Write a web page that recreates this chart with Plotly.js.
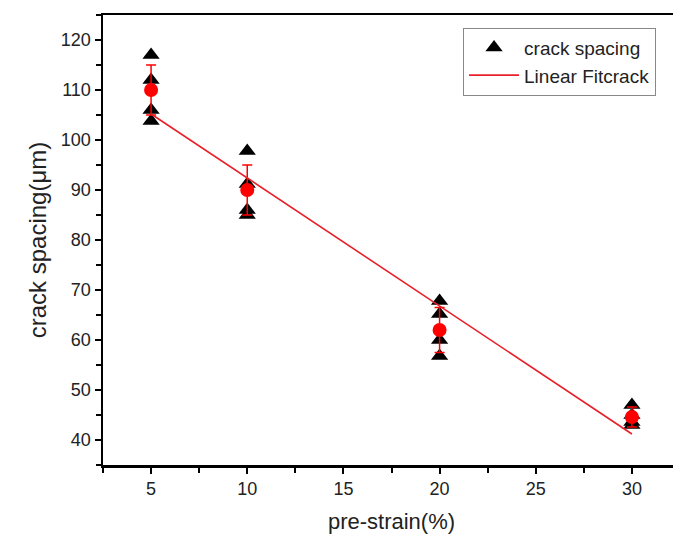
<!DOCTYPE html>
<html>
<head>
<meta charset="utf-8">
<script src="https://cdn.plot.ly/plotly-3.0.1.min.js"></script>
<style>
html,body{margin:0;padding:0;overflow:hidden;background:#fff;width:673px;height:545px;}
#chart{width:690px;height:545px;}
</style>
</head>
<body>
<div id="chart"></div>
<script>
// raw measurements (crack spacing, µm) at each pre-strain (%)
const rawStrain = [5, 5, 5, 5, 10, 10, 10, 10, 20, 20, 20, 20, 30, 30, 30, 30];
const rawSpacing = [117, 112, 106, 103.8, 97.8, 91.2, 86, 85, 67.8, 65.2, 60, 56.8, 47, 45, 43.6, 43];

// mean values with error bars
const meanStrain = [5, 10, 20, 30];
const meanSpacing = [110, 90, 62, 44.6];
const meanError = [5, 5, 4.5, 2];

// linear fit line endpoints
const fitStrain = [5, 30];
const fitSpacing = [105.2, 41.2];

const xTicks = [5, 10, 15, 20, 25, 30];
const yTicks = [40, 50, 60, 70, 80, 90, 100, 110, 120];

const FONT = 'Liberation Sans, Arial, sans-serif';

const traces = [
  {
    x: rawStrain, y: rawSpacing, type: 'scatter', mode: 'markers',
    name: 'crack spacing',
    marker: {symbol: 'triangle-up', size: 15, color: '#000000'}
  },
  {
    x: meanStrain, y: meanSpacing, type: 'scatter', mode: 'markers',
    showlegend: false,
    marker: {symbol: 'circle', size: 14, color: '#ff0000'},
    error_y: {type: 'data', array: meanError, visible: true, color: '#ff0000', thickness: 1.5, width: 5}
  },
  {
    x: fitStrain, y: fitSpacing, type: 'scatter', mode: 'lines',
    name: 'Linear Fitcrack',
    line: {color: '#e8202a', width: 1.6}
  }
];

const axisCommon = {
  showline: true, linecolor: '#000', linewidth: 2.5, mirror: true,
  ticks: 'outside', ticklen: 6, tickwidth: 2, tickcolor: '#000',
  showgrid: false, zeroline: false,
  tickfont: {family: FONT, size: 18, color: '#222'}
};

const layout = {
  width: 690, height: 545,
  margin: {l: 103, r: 10, t: 15, b: 80},
  paper_bgcolor: '#fff', plot_bgcolor: '#fff',
  font: {family: FONT, color: '#000'},
  xaxis: Object.assign({}, axisCommon, {
    range: [2.5, 32.5], tickmode: 'array', tickvals: xTicks, ticktext: xTicks.map(String),
    minor: {ticks: 'outside', dtick: 5, tick0: 2.5, ticklen: 5, tickwidth: 2, tickcolor: '#000'},
    title: {text: 'pre-strain(%)', font: {size: 22, family: FONT, color: '#222'}, standoff: 16}
  }),
  yaxis: Object.assign({}, axisCommon, {
    range: [35, 125], tickmode: 'array', tickvals: yTicks, ticktext: yTicks.map(String),
    minor: {ticks: 'outside', dtick: 10, tick0: 35, ticklen: 5, tickwidth: 2, tickcolor: '#000'},
    title: {text: 'crack spacing(μm)', font: {size: 24, family: FONT, color: '#222'}, standoff: 8}
  }),
  legend: {
    x: 0.624, y: 0.972, xanchor: 'left', yanchor: 'top',
    bgcolor: '#fff', bordercolor: '#888', borderwidth: 1,
    font: {size: 19, family: FONT, color: '#222'},
    tracegroupgap: 0, itemwidth: 50
  },
  showlegend: true
};

Plotly.newPlot('chart', traces, layout, {displayModeBar: false, staticPlot: true});
</script>
</body>
</html>
